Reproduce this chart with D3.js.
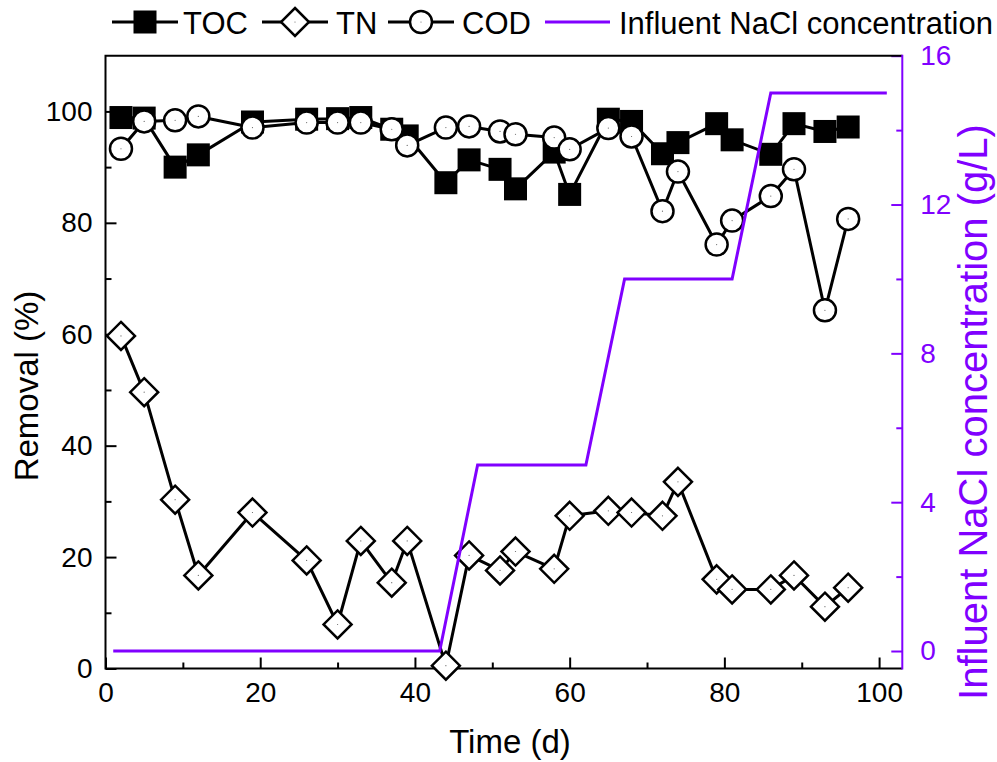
<!DOCTYPE html>
<html>
<head>
<meta charset="utf-8">
<script src="https://cdn.jsdelivr.net/npm/d3@7/dist/d3.min.js"></script>
<style>
  html, body { margin: 0; padding: 0; background: #fff; }
  svg { display: block; font-family: "Liberation Sans", Arial, sans-serif; }
</style>
</head>
<body>
<svg id="chart" width="997" height="762"></svg>
<script>
// ---- data ----
const days = [2, 5, 9, 12, 19, 26, 30, 33, 37, 39, 44, 47, 51, 53, 58, 60, 65, 68, 72, 74, 79, 81, 86, 89, 93, 96];
const toc  = [98.9, 98.8, 90.0, 92.2, 98.1, 98.6, 98.7, 98.9, 96.8, 95.6, 87.2, 91.3, 89.6, 86.1, 92.7, 85.1, 98.6, 98.2, 92.4, 94.4, 97.8, 94.9, 92.3, 97.8, 96.4, 97.2];
const tn   = [59.7, 49.6, 30.3, 16.7, 28.0, 19.4, 7.9, 22.9, 15.4, 22.9, 0.5, 20.3, 17.6, 21.0, 17.9, 27.4, 28.3, 28.0, 27.4, 33.5, 16.0, 14.2, 14.2, 16.7, 11.1, 14.5];
const cod  = [93.3, 98.2, 98.4, 99.1, 97.1, 98.0, 98.0, 98.0, 96.8, 93.9, 97.1, 97.3, 96.4, 95.9, 95.3, 93.2, 97.0, 95.5, 82.1, 89.2, 76.1, 80.4, 84.8, 89.6, 64.3, 80.7];
const naclDays = [1, 43.2, 48.1, 62.1, 67.1, 81, 86, 101];
const naclConc = [0, 0, 5, 5, 10, 10, 15, 15];
const xTicks = [0, 20, 40, 60, 80, 100];
const yTicks = [0, 20, 40, 60, 80, 100];
const y2Ticks = [0, 4, 8, 12, 16];
const legendLabels = ["TOC", "TN", "COD", "Influent NaCl concentration"];

const PURPLE = "#8000ff";
const svg = d3.select("#chart");
const L = 105.5, R = 902.3, T = 55.7, B = 668.5;

const x = d3.scaleLinear().domain([0, 103]).range([L, R]);
const y = d3.scaleLinear().domain([0, 110]).range([B, T]);
const y2 = d3.scaleLinear().domain([-0.47, 16]).range([B, T]);

// ---- axes ----
function styleAxis(g, color) {
  g.select(".domain").remove();
  g.selectAll("line").attr("stroke", color).attr("stroke-width", 2);
  g.selectAll("text").attr("fill", color).style("font-size", "28px").style("font-family", "Liberation Sans, Arial, sans-serif");
}
const xMinor = d3.range(10, 100, 20);
const yMinor = d3.range(10, 110, 20);
const y2Minor = [2, 6, 10, 14];

const gx = svg.append("g").attr("transform", `translate(0,${B})`)
  .call(d3.axisBottom(x).tickValues(xTicks).tickSize(-11).tickPadding(14).tickFormat(d3.format("d")));
styleAxis(gx, "#000");
svg.append("g").attr("transform", `translate(0,${B})`)
  .call(d3.axisBottom(x).tickValues(xMinor).tickSize(-6).tickFormat(""))
  .call(g => styleAxis(g, "#000"));

const gy = svg.append("g").attr("transform", `translate(${L},0)`)
  .call(d3.axisLeft(y).tickValues(yTicks).tickSize(-11).tickPadding(13).tickFormat(d3.format("d")));
styleAxis(gy, "#000");
svg.append("g").attr("transform", `translate(${L},0)`)
  .call(d3.axisLeft(y).tickValues(yMinor).tickSize(-6).tickFormat(""))
  .call(g => styleAxis(g, "#000"));

const gy2 = svg.append("g").attr("transform", `translate(${R},0)`)
  .call(d3.axisRight(y2).tickValues(y2Ticks).tickSize(-11).tickPadding(18).tickFormat(d3.format("d")));
styleAxis(gy2, PURPLE);
svg.append("g").attr("transform", `translate(${R},0)`)
  .call(d3.axisRight(y2).tickValues(y2Minor).tickSize(-6).tickFormat(""))
  .call(g => styleAxis(g, PURPLE));

// frame
svg.append("path").attr("d", `M${R},${T}H${L}V${B}H${R}`).attr("fill", "none").attr("stroke", "#000").attr("stroke-width", 2);
svg.append("line").attr("x1", R).attr("x2", R).attr("y1", T - 1).attr("y2", B + 1).attr("stroke", PURPLE).attr("stroke-width", 2);

// axis titles
svg.append("text").attr("x", 510).attr("y", 753).attr("text-anchor", "middle")
  .style("font-size", "33px").text("Time (d)");
svg.append("text").attr("transform", `translate(38,386) rotate(-90)`).attr("text-anchor", "middle")
  .style("font-size", "33px").text("Removal (%)");
svg.append("text").attr("transform", `translate(987,412) rotate(-90)`).attr("text-anchor", "middle")
  .attr("fill", PURPLE).style("font-size", "40px").text("Influent NaCl concentration (g/L)");

// ---- series ----
const line = d3.line();
function drawSeries(vals, shape) {
  const pts = days.map((d, i) => [x(d), y(vals[i])]);
  svg.append("path").attr("d", line(pts)).attr("fill", "none").attr("stroke", "#000").attr("stroke-width", 3).attr("stroke-linejoin", "round");
  pts.forEach(p => drawMarker(svg, shape, p[0], p[1]));
}
function drawMarker(g, shape, cx, cy) {
  if (shape === "square") {
    g.append("rect").attr("x", cx - 11.5).attr("y", cy - 11.5).attr("width", 23).attr("height", 23).attr("fill", "#000");
  } else if (shape === "circle") {
    g.append("circle").attr("cx", cx).attr("cy", cy).attr("r", 11).attr("fill", "#fff").attr("stroke", "#000").attr("stroke-width", 2.5);
    g.append("circle").attr("cx", cx).attr("cy", cy).attr("r", 0.6).attr("fill", "#666");
  } else {
    const h = 14;
    g.append("path").attr("d", `M${cx},${cy - h}L${cx + h},${cy}L${cx},${cy + h}L${cx - h},${cy}Z`).attr("fill", "#fff").attr("stroke", "#000").attr("stroke-width", 2.5);
    g.append("circle").attr("cx", cx).attr("cy", cy).attr("r", 0.6).attr("fill", "#666");
  }
}
drawSeries(toc, "square");
drawSeries(tn, "diamond");
drawSeries(cod, "circle");

const naclPts = naclDays.map((d, i) => [x(d), y2(naclConc[i])]);
svg.append("path").attr("d", line(naclPts)).attr("fill", "none").attr("stroke", PURPLE).attr("stroke-width", 3);

// ---- legend ----
const legendItems = [
  { label: legendLabels[0], shape: "square", lx: 112, tx: 183 },
  { label: legendLabels[1], shape: "diamond", lx: 262, tx: 336 },
  { label: legendLabels[2], shape: "circle", lx: 388, tx: 462 },
  { label: legendLabels[3], shape: "nacl", lx: 545, tx: 619 }
];
const ly = 22;
legendItems.forEach(it => {
  if (it.shape === "nacl") {
    svg.append("line").attr("x1", it.lx).attr("x2", it.lx + 65).attr("y1", ly).attr("y2", ly).attr("stroke", PURPLE).attr("stroke-width", 3);
  } else {
    svg.append("line").attr("x1", it.lx).attr("x2", it.lx + 66).attr("y1", ly).attr("y2", ly).attr("stroke", "#000").attr("stroke-width", 3);
    drawMarker(svg, it.shape, it.lx + 33, ly);
  }
  svg.append("text").attr("x", it.tx).attr("y", ly + 12).style("font-size", "31px").text(it.label);
});
</script>
</body>
</html>
